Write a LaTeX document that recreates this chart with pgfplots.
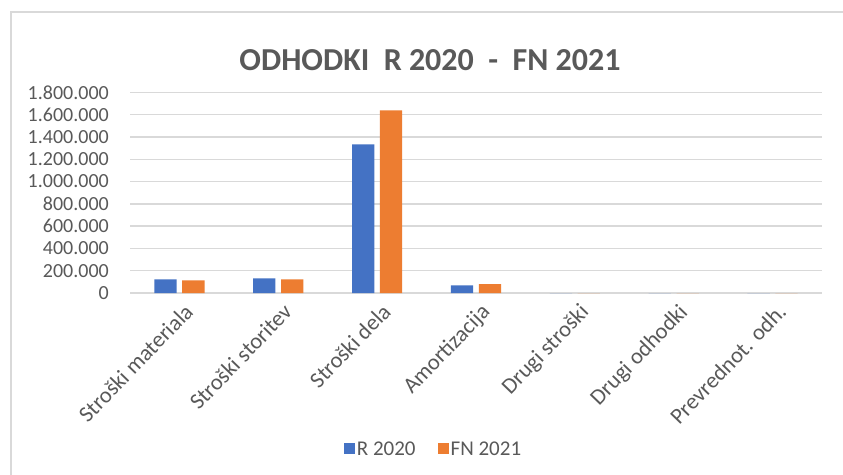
\documentclass[border=0pt]{standalone}
\usepackage{pgfplots}
\pgfplotsset{compat=1.18}
\usepackage{fontspec}
\setmainfont{Carlito}
\definecolor{rblue}{HTML}{4472C4}
\definecolor{forange}{HTML}{ED7D31}
\definecolor{txtgray}{HTML}{595959}
\definecolor{gridgray}{HTML}{D9D9D9}
\begin{document}
\begin{tikzpicture}
\clip (0,0) rectangle (843pt,474pt);
\fill[white] (0,0) rectangle (843pt,474pt);
% outer chart frame
\draw[gridgray, line width=2pt] (11pt,-20pt) -- (11pt,462pt) -- (870pt,462pt);
\node[anchor=base, text=txtgray, font=\fontsize{32}{38}\selectfont\bfseries]
  at (430pt,403pt) {ODHODKI\ \ R 2020\ \ -\ \ FN 2021};
\begin{axis}[
    at={(130pt,181pt)}, anchor=south west,
    scale only axis,
    width=692pt, height=200.7pt,
    xmin=-0.5, xmax=6.5,
    ymin=0, ymax=1800000,
    ybar=5.6pt, bar width=22.3pt,
    axis line style={draw=none},
    ymajorgrids,
    grid style={gridgray, line width=1.4pt},
    major tick length=0pt,
    xtick={0,...,6},
    xticklabels={Stroški materiala, Stroški storitev, Stroški dela, Amortizacija, Drugi stroški, Drugi odhodki, Prevrednot. odh.},
    ytick={0,200000,...,1800000},
    scaled y ticks=false,
    yticklabel style={
        /pgf/number format/.cd, fixed, 1000 sep={.}, assume math mode=true,
        /tikz/.cd, inner sep=0pt, anchor=east, xshift=-21pt,
        font=\fontsize{20}{24}\selectfont, text=txtgray},
    xticklabel style={rotate=46, anchor=north east, inner sep=0pt,
        xshift=-4pt, yshift=-9pt,
        font=\fontsize{22.5}{27}\selectfont, text=txtgray},
    legend style={at={(0.4386,-0.777)}, anchor=center, draw=none, fill=none,
        font=\fontsize{21}{25}\selectfont, text=txtgray,
        /tikz/every even column/.style={column sep=20pt}},
    legend columns=2,
    legend image code/.code={\fill[#1] (0pt,-5pt) rectangle (11pt,5.5pt);},
]
\addplot[draw=none, fill=rblue] coordinates {
    (0,122700) (1,131600) (2,1332000) (3,69000) (4,0) (5,0) (6,0)};
\addplot[draw=none, fill=forange] coordinates {
    (0,113700) (1,122700) (2,1639000) (3,80600) (4,0) (5,0) (6,0)};
\legend{R 2020, FN 2021}
\end{axis}
\end{tikzpicture}
\end{document}
